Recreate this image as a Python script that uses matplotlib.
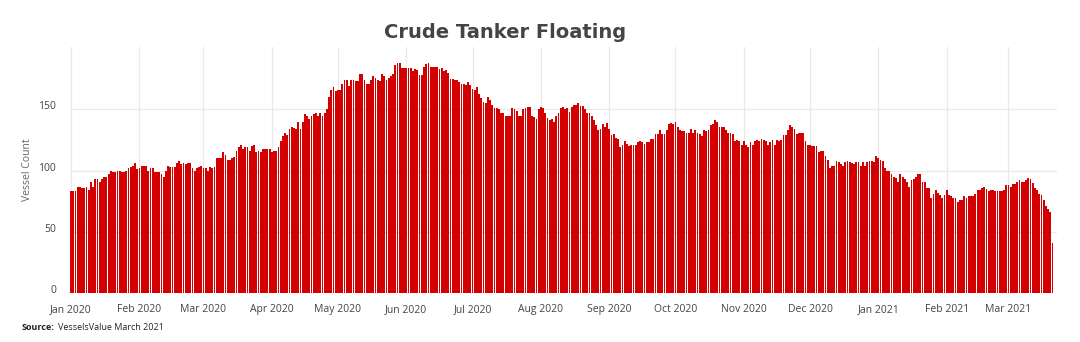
import matplotlib
matplotlib.use("Agg")
import matplotlib.pyplot as plt
import matplotlib.dates as mdates
import matplotlib.transforms as mtransforms
import numpy as np
import pandas as pd

# Daily count of crude tankers floating
jan_2020 = [83,83,83,87,87,86,86,87,84,91,87,93,93,91,93,95,95,97,100,99,99,100,100,99,99,100,102,103,104,106,101]
feb_2020 = [102,104,104,104,100,102,102,99,99,99,97,95,100,104,103,103,103,106,108,105,106,105,106,106,102,100,102,103,104]
mar_2020 = [102,102,100,103,102,103,110,110,110,115,113,109,109,110,111,116,119,121,118,119,119,116,120,121,115,116,115,118,118,118,118]
apr_2020 = [115,116,116,119,124,128,131,129,134,136,135,134,140,134,140,146,145,142,145,146,147,145,147,145,147,150,160,166,168,165]
may_2020 = [166,166,171,174,174,169,174,174,173,173,179,179,174,171,171,174,177,176,174,173,179,177,174,176,177,179,186,188,188,184,184]
jun_2020 = [184,184,184,181,183,182,178,178,185,187,188,185,185,185,185,183,184,181,182,180,175,175,174,174,172,171,171,170,172,170]
jul_2020 = [167,166,168,163,159,156,155,160,158,154,151,151,150,147,147,145,145,145,151,150,149,145,145,150,151,152,152,145,144,142,150]
aug_2020 = [152,151,147,143,141,142,140,145,147,151,152,150,151,148,152,154,154,155,153,153,150,147,147,145,141,137,133,134,138,136,139]
sep_2020 = [134,129,130,127,126,119,121,124,122,120,121,121,121,123,124,123,122,123,123,126,126,130,130,133,130,130,133,138,139,138]
oct_2020 = [140,136,133,132,132,131,131,134,131,133,131,130,128,133,132,133,137,138,141,140,136,136,136,133,131,131,130,124,125,124,121]
nov_2020 = [124,121,119,123,121,124,125,124,126,125,124,121,123,125,121,125,124,125,129,129,133,137,136,134,130,131,131,131,124,121]
dec_2020 = [121,120,120,120,115,116,116,112,109,102,104,104,108,107,105,104,107,108,107,106,105,107,107,104,107,104,107,108,108,107,112]
jan_2021 = [110,109,108,102,100,100,97,95,94,91,97,95,93,91,87,92,93,95,97,97,91,91,86,86,78,81,84,82,80,78,80]
feb_2021 = [84,80,79,78,78,74,76,76,79,78,79,79,79,81,84,84,86,87,85,83,84,84,83,83,83,83,84,88]
mar_2021 = [88,87,89,89,91,92,91,91,92,94,93,90,86,84,81,80,76,71,69,66,41]

start_date = "2020-01-01"
y_ticks = [0, 50, 100, 150]
title = "Crude Tanker Floating"
y_label = "Vessel Count"

values = (jan_2020 + feb_2020 + mar_2020 + apr_2020 + may_2020 + jun_2020 + jul_2020
          + aug_2020 + sep_2020 + oct_2020 + nov_2020 + dec_2020 + jan_2021 + feb_2021 + mar_2021)
dates = pd.date_range(start_date, periods=len(values), freq="D")

fig = plt.figure(figsize=(10.8, 3.42), dpi=100)
ax = fig.add_axes([70/1080, 1-293/342, (1057-70)/1080, (293-47)/342])

ax.bar(dates, values, width=0.82, color="#d20000", linewidth=0, zorder=3)

ax.set_ylim(0, 201)
x0 = mdates.date2num(dates[0]) - 0.5
ax.set_xlim(x0, x0 + 447.5)
ax.set_yticks(y_ticks)
ax.xaxis.set_major_locator(mdates.MonthLocator())
ax.xaxis.set_major_formatter(mdates.DateFormatter("%b %Y"))

ax.grid(True, color="#e9e9e9", linewidth=0.9, zorder=0)
for s in ax.spines.values():
    s.set_visible(False)
ax.tick_params(axis="both", length=0, labelcolor="#444444", labelsize=7.5)
ax.tick_params(axis="y", pad=10)
ax.tick_params(axis="x", pad=8)
shift = mtransforms.ScaledTranslation(0, 4/100, fig.dpi_scale_trans)
for lab in ax.get_yticklabels():
    lab.set_family("Open Sans")
    lab.set_transform(lab.get_transform() + shift)
for lab in ax.get_xticklabels():
    lab.set_family("Open Sans")

fig.text(505/1080, 1-32/342, title, ha="center", va="center", fontsize=14,
         fontweight="bold", color="#444444", family="DejaVu Sans")
fig.text(28/1080, 1-170/342, y_label, ha="center", va="center", rotation=90,
         fontsize=7.5, color="#666666", family="Open Sans")

t1 = fig.text(22/1080, 1-328/342, "Source:", ha="left", va="center", fontsize=6.5,
              fontweight="bold", color="#222222", family="Open Sans")
fig.canvas.draw()
bb = t1.get_window_extent(renderer=fig.canvas.get_renderer())
fig.text((bb.x1 + 3)/1080, 1-328/342, "VesselsValue March 2021", ha="left", va="center",
         fontsize=6.5, color="#222222", family="Open Sans")

fig.savefig("out.png", dpi=100)
